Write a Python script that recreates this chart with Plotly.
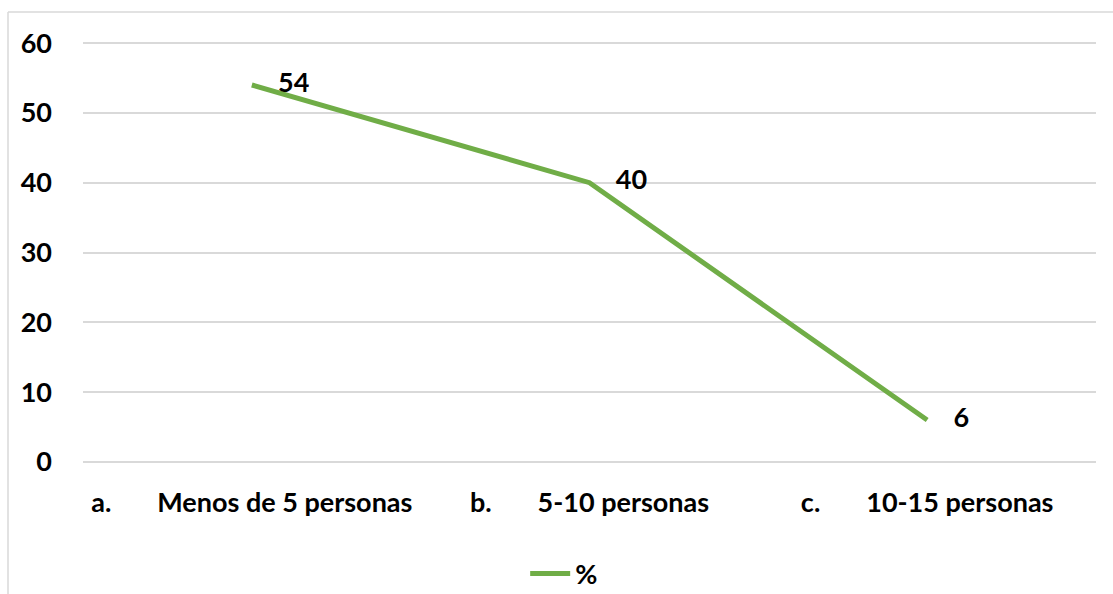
import plotly.graph_objects as go

# Share of respondents by group size
categories = ["a.", "b.", "c."]
category_names = ["Menos de 5 personas", "5-10 personas", "10-15 personas"]
percent = [54, 40, 6]
y_ticks = [0, 10, 20, 30, 40, 50, 60]
series_name = "%"

GREEN = "#70AD47"
GRID = "#D9D9D9"
FONT = "Lato"
SIZE = 27
NB = "\u00a0"

tick_text = [f"{c}{NB * 7}{n}" for c, n in zip(categories, category_names)]
bold = dict(family=FONT, size=SIZE, color="black", weight="bold")

fig = go.Figure()
fig.add_trace(go.Scatter(
    x=tick_text,
    y=percent,
    mode="lines+text",
    name=series_name,
    line=dict(color=GREEN, width=5),
    text=[f"{NB * 4}{v}" for v in percent],
    textposition="middle right",
    textfont=bold,
    cliponaxis=False,
))

fig.update_layout(
    width=1113,
    height=594,
    margin=dict(l=83, r=17, t=41, b=130, autoexpand=False),
    paper_bgcolor="white",
    plot_bgcolor="white",
    font=bold,
    showlegend=True,
    legend=dict(
        orientation="h",
        x=0.475, xanchor="center",
        y=-0.26, yanchor="middle",
        font=bold,
        itemwidth=40,
    ),
    xaxis=dict(
        type="category",
        range=[-0.5, len(categories) - 0.5],
        automargin=False,
        showgrid=False,
        zeroline=False,
        showline=False,
        ticks="",
        ticklabelstandoff=20,
        tickfont=bold,
    ),
    yaxis=dict(
        range=[-0.3, 60.3],
        automargin=False,
        tickvals=y_ticks,
        showgrid=True,
        gridcolor=GRID,
        gridwidth=1.5,
        zeroline=False,
        showline=False,
        ticks="",
        ticklabelstandoff=30,
        tickfont=bold,
    ),
    shapes=[
        # outer chart frame (top and left edges)
        dict(type="line", xref="paper", yref="paper",
             x0=(8 - 83) / 1013, x1=(1113 - 83) / 1013,
             y0=(594 - 130 - 12) / 423, y1=(594 - 130 - 12) / 423,
             line=dict(color=GRID, width=1.5)),
        dict(type="line", xref="paper", yref="paper",
             x0=(8 - 83) / 1013, x1=(8 - 83) / 1013,
             y0=(594 - 130 - 12) / 423, y1=-130 / 423,
             line=dict(color=GRID, width=1.5)),
    ],
)

fig.write_html("out.html")
